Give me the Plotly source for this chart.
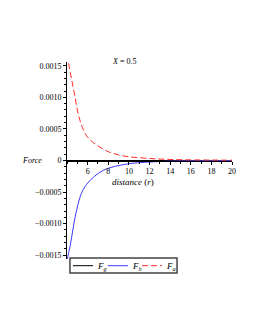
import plotly.graph_objects as go

# distance values (r)
r_a = [4.0, 4.25, 4.5, 4.75, 5.0, 5.25, 5.5, 5.75, 6.0, 6.5, 7.0, 7.5, 8.0, 9.0, 10.0, 12.0, 14.0, 16.0, 18.0, 20.0]
F_a = [0.00168, 0.00145, 0.00124, 0.00103, 0.00080, 0.00064, 0.00052, 0.00043, 0.00037, 0.00029, 0.00023, 0.00018, 0.00014, 0.000088, 0.00006, 0.000032, 0.000016, 0.000010, 0.000007, 0.000005]

r_h = [4.0, 4.32, 4.65, 4.97, 5.45, 6.1, 7.07, 8.04, 9.33, 10.3, 12.0, 14.0, 16.0, 18.0, 20.0]
F_h = [-0.00158, -0.00134, -0.00102, -0.00076, -0.00050, -0.00034, -0.00020, -0.00012, -0.00007, -0.000045, -0.000024, -0.000010, -0.000005, -0.000003, -0.000002]

r_g = [4.0, 8.0, 12.0, 16.0, 20.0]
F_g = [0.0, 0.0, 0.0, 0.0, 0.0]

x_ticks = [6, 8, 10, 12, 14, 16, 18, 20]
y_ticks = [0.0015, 0.0010, 0.0005, 0.0, -0.0005, -0.0010, -0.0015]
y_tick_text = ["0.0015", "0.0010", "0.0005", "0", "\u22120.0005", "\u22120.0010", "\u22120.0015"]

legend_names = ["<i>F</i><sub><i>g</i></sub>", "<i>F</i><sub><i>h</i></sub>", "<i>F</i><sub><i>a</i></sub>"]
colors = ["black", "#3b3bff", "#ff2a2a"]
dashes = ["solid", "solid", "6px,3px"]

FONT = "Liberation Serif"

fig = go.Figure()
fig.add_trace(go.Scatter(x=r_g, y=F_g, mode="lines", line=dict(color=colors[0], width=1, dash=dashes[0]),
                         name=legend_names[0]))
fig.add_trace(go.Scatter(x=r_h, y=F_h, mode="lines", line=dict(color=colors[1], width=1, dash=dashes[1], shape="spline"),
                         name=legend_names[1]))
fig.add_trace(go.Scatter(x=r_a, y=F_a, mode="lines", line=dict(color=colors[2], width=1, dash=dashes[2], shape="spline"),
                         name=legend_names[2]))

# compact hand-placed legend (paper coordinates)
shapes = [dict(type="rect", xref="paper", yref="paper", x0=0.018, x1=0.667, y0=-0.071, y1=0.005,
               line=dict(color="#444444", width=1.5), fillcolor="white")]
annotations = []
sample_x = [(0.036, 0.158), (0.248, 0.370), (0.455, 0.576)]
ly = -0.034
for (x0, x1), name, c, d in zip(sample_x, legend_names, colors, dashes):
    shapes.append(dict(type="line", xref="paper", yref="paper", x0=x0, x1=x1, y0=ly, y1=ly,
                       line=dict(color=c, width=1, dash=d)))
    annotations.append(dict(text=name, x=x1 + 0.01, y=ly - 0.004, xref="paper", yref="paper",
                            xanchor="left", yanchor="middle", showarrow=False, font=dict(size=9)))

annotations += [
    dict(text="<i>X</i> = 0.5", x=0.345, y=1.036, xref="paper", yref="paper",
         showarrow=False, font=dict(size=8)),
    dict(text="<i>Force</i>", x=-0.285, y=0.5, xref="paper", yref="paper",
         showarrow=False, font=dict(size=8)),
    dict(text="<i>distance</i> (<i>r</i>)", x=0.40, y=0.392, xref="paper", yref="paper",
         showarrow=False, font=dict(size=9)),
]

fig.update_layout(
    width=255, height=330,
    margin=dict(l=59, r=31, t=54, b=79),
    paper_bgcolor="white", plot_bgcolor="white",
    font=dict(family=FONT, size=8, color="black"),
    showlegend=False,
    xaxis=dict(range=[4, 20], anchor="free", position=0.5, showline=True, linecolor="black",
               linewidth=1, ticks="outside", ticklen=3, tickcolor="black",
               tickvals=x_ticks, showgrid=False, zeroline=False,
               minor=dict(ticks="outside", ticklen=2, dtick=1, tickcolor="black", showgrid=False)),
    yaxis=dict(range=[-0.00156, 0.00156], showline=True, linecolor="black", linewidth=1,
               ticks="outside", ticklen=3, tickcolor="black",
               tickvals=y_ticks, ticktext=y_tick_text, showgrid=False, zeroline=False,
               minor=dict(ticks="outside", ticklen=2, dtick=0.0001, tickcolor="black", showgrid=False)),
    shapes=shapes,
    annotations=annotations,
)

fig.write_html("out.html")
